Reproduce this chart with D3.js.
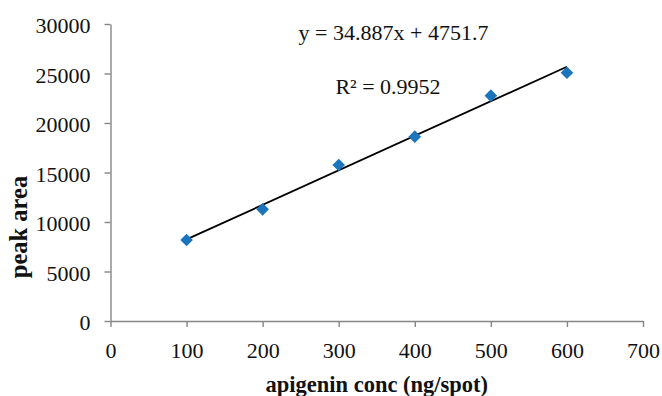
<!DOCTYPE html>
<html>
<head>
<meta charset="utf-8">
<script src="https://cdn.jsdelivr.net/npm/d3@7"></script>
<style>
  html, body { margin: 0; padding: 0; background: #fff; }
  svg { display: block; }
  text { font-family: "Liberation Serif", "Times New Roman", serif; }
</style>
</head>
<body>
<div id="chart"></div>
<script>
// ---- data ----
const concentrations = [100, 200, 300, 400, 500, 600];
const peakAreas = [8180, 11280, 15760, 18620, 22760, 25080];
const xTicks = [0, 100, 200, 300, 400, 500, 600, 700];
const yTicks = [0, 5000, 10000, 15000, 20000, 25000, 30000];
const slope = 34.887;
const intercept = 4751.7;
const equationLabel = "y = 34.887x + 4751.7";
const r2Label = "R² = 0.9952";
const xTitle = "apigenin conc (ng/spot)";
const yTitle = "peak area";

// ---- chart ----
const W = 662, H = 396;
const svg = d3.select("#chart").append("svg").attr("width", W).attr("height", H);

const x = d3.scaleLinear().domain([0, 700]).range([110.5, 643]);
const y = d3.scaleLinear().domain([0, 30000]).range([321, 24]);

const axisColor = "#868686";
const serif = "'Liberation Serif', 'Times New Roman', serif";

const xAxis = svg.append("g")
  .attr("transform", `translate(0,${y(0)})`)
  .call(d3.axisBottom(x).tickValues(xTicks).tickSize(6).tickSizeOuter(0).tickPadding(15).tickFormat(d3.format("d")));
const yAxis = svg.append("g")
  .attr("transform", `translate(${x(0)},0)`)
  .call(d3.axisLeft(y).tickValues(yTicks).tickSize(6).tickSizeOuter(0).tickPadding(14).tickFormat(d3.format("d")));

[xAxis, yAxis].forEach(g => {
  g.attr("font-family", serif);
  g.select(".domain").attr("stroke", axisColor).attr("stroke-width", 1.4);
  g.selectAll(".tick line").attr("stroke", axisColor).attr("stroke-width", 1.4);
  g.selectAll(".tick text").attr("fill", "#111").attr("font-size", 22).attr("font-family", serif);
});
yAxis.selectAll(".tick text").attr("dy", "0.4em");

// trendline
const xMin = d3.min(concentrations), xMax = d3.max(concentrations);
svg.append("line")
  .attr("x1", x(xMin)).attr("y1", y(slope * xMin + intercept))
  .attr("x2", x(xMax)).attr("y2", y(slope * xMax + intercept))
  .attr("stroke", "#000").attr("stroke-width", 1.8);

// markers (diamonds)
const diamond = d3.symbol().type(d3.symbolSquare).size(80);
svg.append("g").selectAll("path")
  .data(concentrations.map((c, i) => ({ c, v: peakAreas[i] })))
  .join("path")
  .attr("d", diamond)
  .attr("transform", d => `translate(${x(d.c)},${y(d.v)}) rotate(45)`)
  .attr("fill", "#1b75bc");

// equation labels
svg.append("text").attr("x", 393.5).attr("y", 39.5)
  .attr("text-anchor", "middle").attr("font-size", 22).attr("fill", "#111")
  .text(equationLabel);
svg.append("text").attr("x", 388).attr("y", 93.5)
  .attr("text-anchor", "middle").attr("font-size", 22).attr("fill", "#111")
  .text(r2Label);

// axis titles
svg.append("text").attr("x", (x(0) + x(700)) / 2).attr("y", 392)
  .attr("text-anchor", "middle").attr("font-size", 22.5).attr("font-weight", "bold").attr("fill", "#111")
  .text(xTitle);
svg.append("text")
  .attr("transform", `translate(27,227) rotate(-90)`)
  .attr("text-anchor", "middle").attr("font-size", 24.5).attr("font-weight", "bold").attr("fill", "#111")
  .text(yTitle);
</script>
</body>
</html>
